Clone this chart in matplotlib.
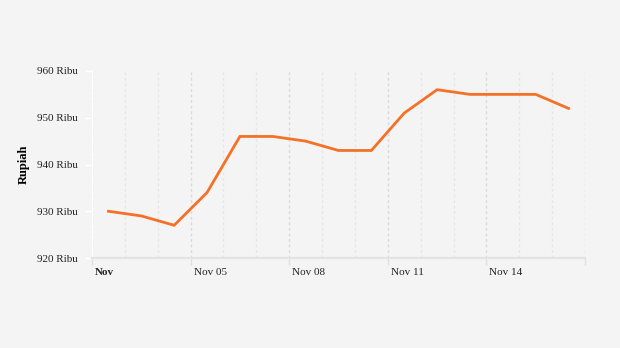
import matplotlib
matplotlib.use("Agg")
import matplotlib.pyplot as plt
import matplotlib.dates as mdates
import matplotlib.transforms as mtrans
import datetime as dt

plt.rcParams['font.family'] = ['Liberation Serif', 'DejaVu Serif']

# Data
dates = [dt.datetime(2023, 11, d, 12) for d in range(2, 17)]
values = [930, 929, 927, 934, 946, 946, 945, 943, 943, 951, 956, 955, 955, 955, 952]
ytick_vals = [920, 930, 940, 950, 960]
ytick_labels = [f"{v} Ribu" for v in ytick_vals]
major_days = [2, 5, 8, 11, 14, 17]
xtick_labels = ["Nov", "Nov 05", "Nov 08", "Nov 11", "Nov 14", ""]

bg = "#f4f4f4"
fig = plt.figure(figsize=(6.2, 3.48), dpi=100, facecolor=bg)
ax = fig.add_axes([92/620, 90/348, 493/620, 187/348], facecolor=bg)

# grid lines
for d in range(2, 18):
    x = mdates.date2num(dt.datetime(2023, 11, d))
    if d in major_days:
        ax.axvline(x, color="#d9d9d9", lw=1.0, ls=(0, (2, 2)), zorder=1)
    else:
        ax.axvline(x, color="#e6e6e6", lw=1.0, ls=(0, (2, 2)), zorder=1)

ax.plot(dates, values, color="#f47127", lw=2.0, zorder=3, solid_joinstyle="miter")

ax.set_xlim(dt.datetime(2023, 11, 2), dt.datetime(2023, 11, 17))
ax.set_ylim(920, 960)
ax.set_yticks(ytick_vals)
ax.set_yticklabels(ytick_labels, fontsize=8, color="#222222")
major_dates = [dt.datetime(2023, 11, d) for d in major_days]
ax.set_xticks(major_dates)
ax.set_xticklabels([])

trans = mtrans.blended_transform_factory(ax.transData, ax.transAxes) + \
    mtrans.ScaledTranslation(3/100, -10/100, fig.dpi_scale_trans)
for dte, lab in zip(major_dates, xtick_labels):
    ax.text(mdates.date2num(dte), 0, lab, transform=trans, ha="left", va="top",
            fontsize=8, color="#222222",
            fontweight="bold" if lab == "Nov" else "normal", clip_on=False)

ax.tick_params(axis="y", length=5, width=1, color="white", pad=5)
ax.tick_params(axis="x", length=5, width=1, color="#e0e0e0", pad=3)

for s in ["top", "right"]:
    ax.spines[s].set_visible(False)
ax.spines["left"].set_color("white")
ax.spines["left"].set_linewidth(1.0)
ax.spines["bottom"].set_color("#e3e3e3")
ax.spines["bottom"].set_linewidth(1.5)

ax.set_ylabel("Rupiah", fontsize=9, fontweight="bold")
ax.yaxis.set_label_coords(-62/493, 0.5)

fig.savefig("out.png", dpi=100, facecolor=bg)
